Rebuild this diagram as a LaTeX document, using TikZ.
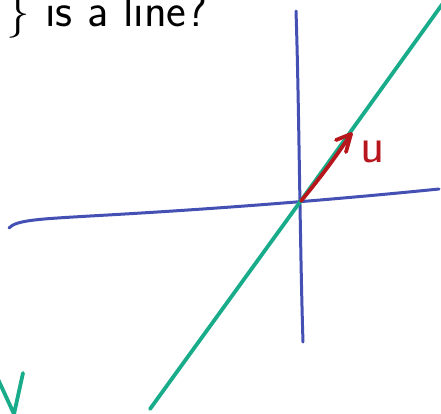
\documentclass[tikz,border=0pt]{standalone}
\usepackage{fontspec}
\setsansfont{Latin Modern Sans}
\definecolor{axisblue}{RGB}{68,80,180}
\definecolor{linegreen}{RGB}{24,172,138}
\definecolor{vecred}{RGB}{182,22,28}
\tikzset{
  axis/.style={draw=axisblue, line width=3pt, line cap=round},
  gline/.style={draw=linegreen, line width=3.8pt, line cap=round, line join=round},
  rline/.style={draw=vecred, line width=3.8pt, line cap=round, line join=round},
  big/.style={inner sep=0pt, anchor=base west, font=\sffamily\fontsize{47}{50}\selectfont}
}
\begin{document}
\begin{tikzpicture}[x=1pt,y=-1pt]
\useasboundingbox (0,0) rectangle (441,413);
\fill[white] (0,0) rectangle (441,413);
% title text
\node[big, font=\rmfamily\fontsize{47}{50}\selectfont] (br) at (6,26) {\}};
\node[big] (q) at (45,26) {is a line?};
% axes
\coordinate (o) at (300,202);
\coordinate (vt) at (296,11);
\coordinate (vb) at (303,342);
\coordinate (hl) at (9,228);
\coordinate (hr) at (439,189);
\draw[axis] (vt) .. controls (299,100) and (300,250) .. (vb);
\draw[axis] (hl) .. controls (16,220) and (40,219) .. (90,216) .. controls (180,211) and (300,203) .. (hr);
% green line
\coordinate (gb) at (150,409);
\coordinate (gt) at (446,-1);
\draw[gline] (gb) -- (o) -- (gt);
% red vector
\coordinate (ut) at (351,134);
\draw[rline] (301,201) .. controls (320,178) and (335,158) .. (ut);
\draw[rline] (336,140) -- (ut) -- (346,152);
\node[text=vecred, inner sep=0pt, anchor=base west, font=\sffamily\fontsize{50}{54}\selectfont] (u) at (360,162) {u};
% green V mark
\draw[gline] (-3,377) -- (14,414) -- (23,373);
\end{tikzpicture}
\end{document}
